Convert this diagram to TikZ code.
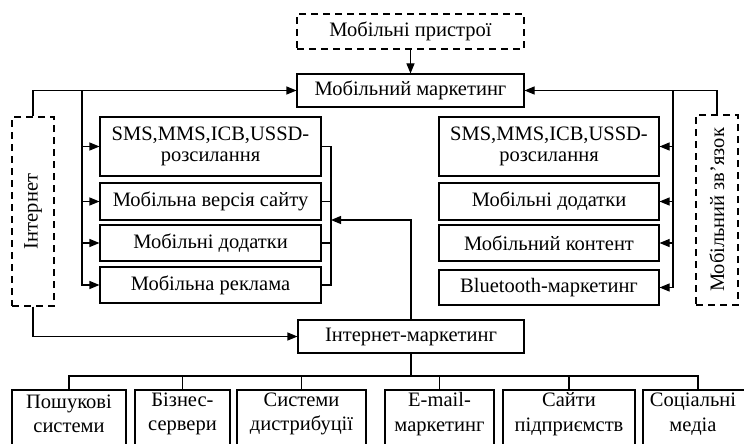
\documentclass[tikz,border=0pt]{standalone}
\usepackage{fontspec}
\setmainfont{Liberation Serif}
\usetikzlibrary{arrows.meta}
\begin{document}
\begin{tikzpicture}[x=1pt,y=-1pt,
  every node/.style={font=\fontsize{20.5}{21}\selectfont, align=center, inner sep=0pt},
  box/.style={draw, line width=1.1pt, rectangle},
  dbox/.style={box, dash pattern=on 7pt off 5pt},
  conn/.style={line width=1.1pt},
  arr/.style={conn, -{Triangle[length=10pt,width=8pt]}},
  lbox/.style={box, minimum width=221pt},
  rbox/.style={box, minimum width=220pt},
  bbox/.style={box, minimum height=70pt},
  btext/.style={font=\fontsize{20.5}{24.5}\selectfont},
]
\useasboundingbox (0,0) rectangle (744,444);
\clip (0,0) rectangle (744,444);

% top
\node[dbox, minimum width=227pt, minimum height=35pt] (mp) at (410.5,31.5) {Мобільні пристрої};
\node[box, minimum width=227pt, minimum height=33pt] (mm) at (410.5,90.5) {Мобільний маркетинг};

% side dashed boxes
\node[dbox, minimum width=42pt, minimum height=189pt] (int) at (33,211.5) {\rotatebox{90}{Інтернет}};
\node[dbox, minimum width=42pt, minimum height=190pt] (mz) at (717,210) {\rotatebox{90}{Мобільний зв’язок}};

% left column
\node[lbox, minimum height=59pt] (L1) at (210.5,146.5) {SMS,MMS,ICB,USSD-\\розсилання};
\node[lbox, minimum height=37pt] (L2) at (210.5,201.5) {Мобільна версія сайту};
\node[lbox, minimum height=36pt] (L3) at (210.5,243) {Мобільні додатки};
\node[lbox, minimum height=36pt] (L4) at (210.5,285) {Мобільна реклама};

% right column
\node[rbox, minimum height=59pt] (R1) at (549,146.5) {SMS,MMS,ICB,USSD-\\розсилання};
\node[rbox, minimum height=37pt] (R2) at (549,201.5) {Мобільні додатки};
\node[rbox, minimum height=36pt] (R3) at (549,243) {Мобільний контент};
\node[rbox, minimum height=35pt] (R4) at (549,287.5) {Bluetooth-маркетинг};

% internet marketing
\node[box, minimum width=226pt, minimum height=33pt] (im) at (411,336.5) {Інтернет-маркетинг};

% bottom row
\node[bbox, minimum width=114pt] (b1) at (69,425) {};
\node[bbox, minimum width=95pt] (b2) at (182.5,425) {};
\node[bbox, minimum width=129pt] (b3) at (301.5,425) {};
\node[bbox, minimum width=109pt] (b4) at (439.5,425) {};
\node[bbox, minimum width=132pt] (b5) at (569,425) {};
\node[bbox, minimum width=110pt] (b6) at (698,425) {};
\node[btext] (t1) at (69,414) {Пошукові\\системи};
\node[btext] (t2) at (182.5,414) {Бізнес-\\сервери};
\node[btext] (t3) at (301.5,414) {Системи\\дистрибуції};
\node[btext] (t4) at (439.5,414) {E-mail-\\маркетинг};
\node[btext] (t5) at (569,414) {Сайти\\підприємств};
\node[btext] (t6) at (693,414) {Соціальні\\медіа};

% junction coordinates
\coordinate (jl) at (82,90.5);
\coordinate (jr) at (673,90.5);
\coordinate (bl) at (331,220);
\coordinate (tj) at (411,376);

% connectors
\draw[arr] (mp) -- (mm);
\draw[arr] (int.north) |- (mm.west);
\draw[arr] (mz.north) |- (mm.east);
\foreach \n in {L1,L2,L3,L4} \draw[arr] (jl) |- (\n.west);
\foreach \n in {R1,R2,R3,R4} \draw[arr] (jr) |- (\n.east);
\draw[conn] (L1.east) -| (L4.east -| bl) -- (L4.east);
\draw[conn] (L2.east) -- (L2.east -| bl);
\draw[conn] (L3.east) -- (L3.east -| bl);
\draw[arr] (im.north) |- (bl);
\draw[arr] (int.south) |- (im.west);
\draw[conn] (im.south) -- (tj);
\foreach \n in {b1,b2,b3,b4,b5,b6} \draw[conn] (\n.north) |- (tj);
\end{tikzpicture}
\end{document}
